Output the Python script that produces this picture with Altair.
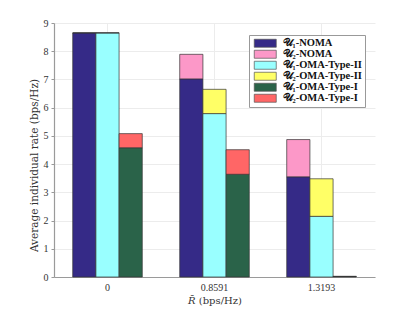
import altair as alt
import pandas as pd

r_labels = ["0", "0.8591", "1.3193"]
schemes = ["NOMA", "OMA-Type-II", "OMA-Type-I"]
series_names = ["𝒰₁-NOMA", "𝒰₂-NOMA", "𝒰₁-OMA-Type-II",
                "𝒰₂-OMA-Type-II", "𝒰₁-OMA-Type-I", "𝒰₂-OMA-Type-I"]
series_scheme = ["NOMA", "NOMA", "OMA-Type-II", "OMA-Type-II", "OMA-Type-I", "OMA-Type-I"]
series_user = [1, 2, 1, 2, 1, 2]
colors = ["#352a87", "#fc98c8", "#99ffff", "#ffff66", "#2a6349", "#ff6666"]

u1_noma = [8.65, 7.02, 3.55]
u2_noma = [0.0, 0.87, 1.32]
u1_oma2 = [8.65, 5.79, 2.15]
u2_oma2 = [0.0, 0.86, 1.33]
u1_oma1 = [4.58, 3.64, 0.02]
u2_oma1 = [0.50, 0.87, 0.0]
values = [u1_noma, u2_noma, u1_oma2, u2_oma2, u1_oma1, u2_oma1]

rows = []
for s, name in enumerate(series_names):
    for i, r in enumerate(r_labels):
        rows.append({"R": r, "scheme": series_scheme[s], "series": name,
                     "user": series_user[s], "value": values[s][i]})
df = pd.DataFrame(rows)

font = "Liberation Serif"
tfont = "DejaVu Serif"

chart = alt.Chart(df).mark_bar(stroke="#333333", strokeWidth=0.7).encode(
    x=alt.X("R:N", sort=r_labels,
            scale=alt.Scale(paddingInner=0.35, paddingOuter=0.175),
            axis=alt.Axis(title="𝑅̄ (bps/Hz)", labelAngle=0, ticks=False,
                          grid=True, gridColor="#ececec", bandPosition=0.5,
                          domainColor="#9a9a9a", domainWidth=1.2,
                          labelFont=font, titleFont=tfont,
                          labelFontSize=10, titleFontSize=10, labelPadding=5,
                          titlePadding=3, titleFontWeight="normal",
                          labelColor="#333", titleColor="#333")),
    xOffset=alt.XOffset("scheme:N", sort=schemes, scale=alt.Scale(paddingInner=0, paddingOuter=0)),
    y=alt.Y("value:Q", stack="zero",
            scale=alt.Scale(domain=[0, 9], nice=False),
            axis=alt.Axis(title="Average individual rate (bps/Hz)", values=list(range(10)),
                          gridColor="#ececec", domainColor="#9a9a9a", domainWidth=1.2,
                          labelFont=font, titleFont=tfont,
                          tickColor="#9a9a9a", tickSize=3, labelFontSize=10, titleFontSize=10.5,
                          titleFontWeight="normal", labelPadding=3, titlePadding=4,
                          titleY=142,
                          labelColor="#333", titleColor="#333")),
    color=alt.Color("series:N", sort=series_names,
                    scale=alt.Scale(domain=series_names, range=colors),
                    legend=alt.Legend(title=None, orient="none", legendX=195, legendY=12,
                                      symbolType="M-2.75,-1H2.75V1H-2.75Z", symbolSize=64,
                                      symbolStrokeColor="#555", symbolStrokeWidth=0.7,
                                      labelFont=font,
                                      labelFontSize=10.5, labelFontWeight="bold", labelColor="#111",
                                      rowPadding=-1, labelOffset=12, symbolOffset=8,
                                      strokeColor="#999", fillColor="white", padding=3,
                                      cornerRadius=0)),
    order=alt.Order("user:Q", sort="ascending"),
).properties(
    width=321, height=254,
    padding={"left": 46, "top": 15, "right": 24, "bottom": 40},
    autosize=alt.AutoSizeParams(type="none"),
).configure(font=font, background="white", view=alt.ViewConfig(stroke=None))

chart.save("out.html", embed_options={"renderer": "svg", "actions": False})
